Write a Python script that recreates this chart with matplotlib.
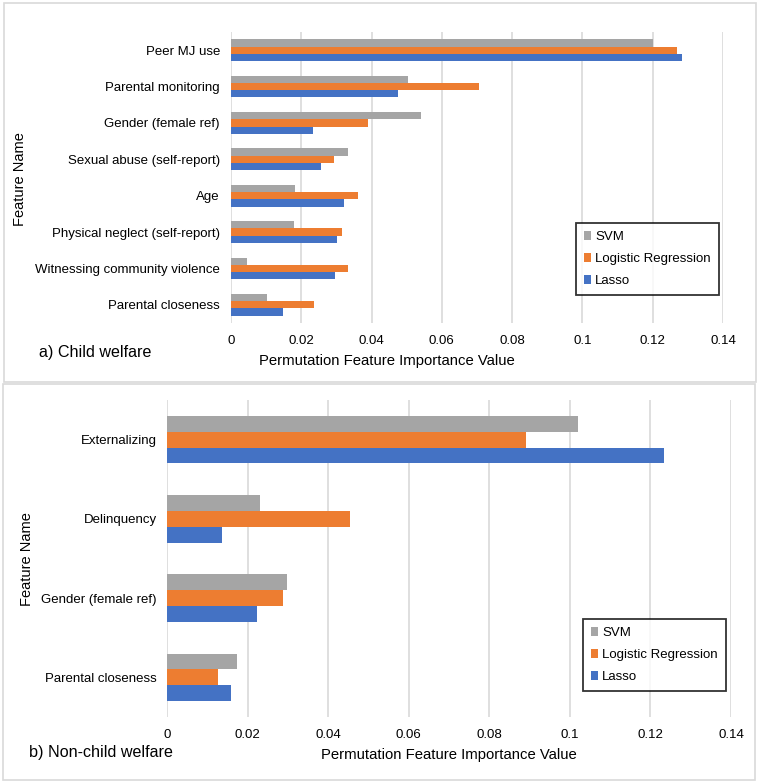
import numpy as np
import matplotlib
matplotlib.use("Agg")
import matplotlib.pyplot as plt
from matplotlib.patches import Rectangle, Patch

plt.rcParams["font.family"] = ["Liberation Sans", "DejaVu Sans"]

# -----------------------------
# DATA
# -----------------------------

models = ["SVM", "Logistic Regression", "Lasso"]
colors = ["#A5A5A5", "#ED7D31", "#4472C4"]

cw_features = ["Peer MJ use", "Parental monitoring", "Gender (female ref)",
               "Sexual abuse (self-report)", "Age", "Physical neglect (self-report)",
               "Witnessing community violence", "Parental closeness"]
cw_svm = [0.120, 0.0503, 0.0540, 0.0333, 0.0183, 0.0178, 0.0046, 0.0103]
cw_logreg = [0.1269, 0.0706, 0.0391, 0.0292, 0.0360, 0.0316, 0.0333, 0.0235]
cw_lasso = [0.1282, 0.0475, 0.0232, 0.0255, 0.0321, 0.0303, 0.0297, 0.0147]

ncw_features = ["Externalizing", "Delinquency", "Gender (female ref)", "Parental closeness"]
ncw_svm = [0.1019, 0.0232, 0.0298, 0.0174]
ncw_logreg = [0.0890, 0.0454, 0.0288, 0.0126]
ncw_lasso = [0.1234, 0.0137, 0.0223, 0.0160]

xticks = [0, 0.02, 0.04, 0.06, 0.08, 0.1, 0.12, 0.14]
xticklabels = ["0", "0.02", "0.04", "0.06", "0.08", "0.1", "0.12", "0.14"]

W, H = 760, 783
fig = plt.figure(figsize=(W / 100, H / 100), dpi=100)


def px_axes(left, top, right, bottom):
    return fig.add_axes([left / W, 1 - bottom / H, (right - left) / W, (bottom - top) / H])


def panel_box(left, top, right, bottom):
    fig.patches.append(Rectangle((left / W, 1 - bottom / H), (right - left) / W,
                                 (bottom - top) / H, transform=fig.transFigure,
                                 fill=False, edgecolor="#D9D9D9", linewidth=1.2))


def draw_panel(ax, features, series, legend_box, ypad):
    n = len(features)
    y = np.arange(n)
    h = 0.2
    offsets = [-h, 0, h]
    for vals, off, c in zip(series, offsets, colors):
        ax.barh(y + off, vals, height=h, color=c, zorder=3)
    ax.set_ylim(n - 0.5, -0.5)
    ax.set_xlim(0, 0.14)
    ax.set_xticks(xticks)
    ax.set_xticklabels(xticklabels)
    ax.set_yticks(y)
    ax.set_yticklabels(features)
    ax.tick_params(axis="both", length=0, labelsize=9.5, colors="#000000")
    ax.tick_params(axis="y", pad=ypad)
    ax.tick_params(axis="x", pad=9)
    ax.grid(axis="x", color="#D9D9D9", linewidth=1.2, zorder=0)
    for s in ax.spines.values():
        s.set_visible(False)
    handles = [Patch(facecolor=c, edgecolor="none") for c in colors]
    lx, ly = legend_box
    leg = fig.legend(handles, models, loc="upper left",
                     bbox_to_anchor=(lx / W, 1 - ly / H), fontsize=9.5,
                     handlelength=0.55, handleheight=0.7, handletextpad=0.3,
                     labelspacing=0.75, borderpad=0.6, fancybox=False,
                     frameon=True, borderaxespad=0)
    leg.get_frame().set_edgecolor("#000000")
    leg.get_frame().set_linewidth(1.3)


# -----------------------------
# a) Child welfare
# -----------------------------
panel_box(4, 3, 756, 382)
ax1 = px_axes(231, 32, 723, 323)
draw_panel(ax1, cw_features, [cw_svm, cw_logreg, cw_lasso], (576, 223), 8)
fig.text(387 / W, 1 - 361 / H, "Permutation Feature Importance Value",
         ha="center", va="center", fontsize=10.7)
fig.text(20 / W, 1 - 179 / H, "Feature Name", rotation=90,
         ha="center", va="center", fontsize=10.5)
fig.text(39 / W, 1 - 353 / H, "a) Child welfare", ha="left", va="center", fontsize=11.6)

# -----------------------------
# b) Non-child welfare
# -----------------------------
panel_box(3, 384, 755, 780)
ax2 = px_axes(167, 400, 731, 717)
draw_panel(ax2, ncw_features, [ncw_svm, ncw_logreg, ncw_lasso], (583, 619), 7.5)
fig.text(449 / W, 1 - 755 / H, "Permutation Feature Importance Value",
         ha="center", va="center", fontsize=10.7)
fig.text(27 / W, 1 - 559 / H, "Feature Name", rotation=90,
         ha="center", va="center", fontsize=10.5)
fig.text(29 / W, 1 - 753 / H, "b) Non-child welfare", ha="left", va="center", fontsize=11.6)

fig.savefig("out.png", dpi=100)
